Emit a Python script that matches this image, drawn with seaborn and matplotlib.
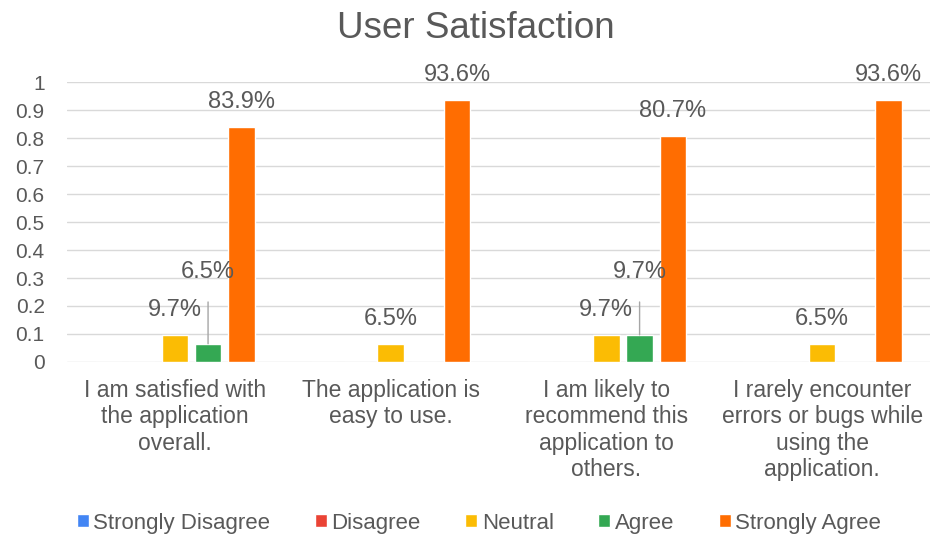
import pandas as pd
import seaborn as sns
import matplotlib.pyplot as plt

# === Data ===
questions = [
    "I am satisfied with\nthe application\noverall.",
    "The application is\neasy to use.",
    "I am likely to\nrecommend this\napplication to\nothers.",
    "I rarely encounter\nerrors or bugs while\nusing the\napplication.",
]
responses = ["Strongly Disagree", "Disagree", "Neutral", "Agree", "Strongly Agree"]
strongly_disagree = [0, 0, 0, 0]
disagree = [0, 0, 0, 0]
neutral = [0.097, 0.065, 0.097, 0.065]
agree = [0.065, 0, 0.097, 0]
strongly_agree = [0.839, 0.936, 0.807, 0.936]
colors = ["#4285F4", "#EA4335", "#FBBC04", "#34A853", "#FF6D01"]

series = [strongly_disagree, disagree, neutral, agree, strongly_agree]
rows = []
for resp, vals in zip(responses, series):
    for q, v in zip(questions, vals):
        rows.append({"Question": q, "Response": resp, "Share": v})
df = pd.DataFrame(rows)

# === Plot ===
sns.set_style("white")
plt.rcParams["font.family"] = ["Liberation Sans", "DejaVu Sans"]
grey = "#595959"

fig = plt.figure(figsize=(9.3, 5.41), dpi=100)
ax = fig.add_axes([0.072, 0.331, 0.928, 0.517])

sns.barplot(data=df, x="Question", y="Share", hue="Response", hue_order=responses,
            palette=colors, width=0.77, gap=0.2, ax=ax, legend=True, errorbar=None,
            saturation=1)

ax.set_ylim(0, 1)
ax.set_xlim(-0.5, 3.5)
ax.set_yticks([i / 10 for i in range(11)])
ax.set_yticklabels(["0"] + [f"0.{i}" for i in range(1, 10)] + ["1"])
ax.yaxis.grid(True, color="#d9d9d9", linewidth=1)
ax.set_axisbelow(True)
for s in ax.spines.values():
    s.set_visible(False)
ax.tick_params(axis="y", length=0, labelsize=15, colors=grey, pad=16)
ax.tick_params(axis="x", length=0, labelsize=16.5, colors=grey, pad=12)
for t in ax.get_xticklabels():
    t.set_linespacing(1.2)
ax.set_xlabel("")
ax.set_ylabel("")

# data labels (skip zeros); two labels lifted with a leader line
lifted = {("Agree", 0), ("Agree", 2)}
for cont, resp in zip(ax.containers, responses):
    for i, bar in enumerate(cont):
        h = bar.get_height()
        if h <= 0:
            continue
        x = bar.get_x() + bar.get_width() / 2
        if (resp, i) in lifted:
            ax.annotate(f"{h:.1%}", xy=(x, h), xytext=(x, 0.32),
                        ha="center", va="center", fontsize=17, color=grey,
                        arrowprops=dict(arrowstyle="-", color="#a6a6a6", lw=1,
                                        shrinkA=11, shrinkB=0),
                        annotation_clip=False)
        else:
            ax.annotate(f"{h:.1%}", xy=(x, h), xytext=(0, 18), textcoords="offset points",
                        ha="center", va="center", fontsize=17, color=grey,
                        annotation_clip=False)

fig.suptitle("User Satisfaction", x=0.512, y=0.98, fontsize=26.5, color=grey)

handles, labels = ax.get_legend_handles_labels()
ax.legend_.remove()
fig.legend(handles, labels, loc="center", bbox_to_anchor=(0.515, 0.033), ncol=5,
           frameon=False, fontsize=16, labelcolor=grey, handlelength=0.55,
           handleheight=0.55, handletextpad=0.2, columnspacing=2.0)

fig.savefig("out.png", dpi=100)
